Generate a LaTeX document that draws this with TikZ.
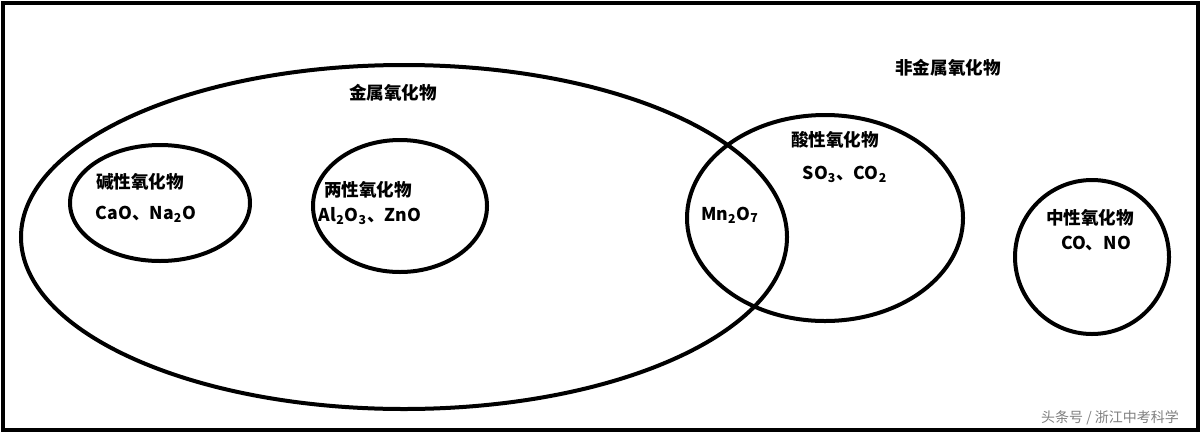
\documentclass[tikz,border=0pt]{standalone}
\usepackage{fontspec}
\setmainfont{Noto Sans CJK SC}
\tikzset{
	set/.style={line width=2pt},
	lbl/.style={font=\fontsize{8.8}{10}\selectfont\bfseries, inner sep=0pt}
}
\begin{document}
\begin{tikzpicture}[x=0.5pt, y=-0.5pt]
	%frame
	\fill[white] (0,0) rectangle (1202,434);
	\draw[line width=1.8pt] (3,3) rectangle (1198,430);
	%sets
	\draw[set] (404,237) ellipse [x radius=383, y radius=172];
	\draw[set] (160,203) ellipse [x radius=90, y radius=58];
	\draw[set] (400,206) ellipse [x radius=87, y radius=66];
	\draw[set] (825,218) ellipse [x radius=138, y radius=103];
	\draw[set] (1092,257) ellipse [x radius=77, y radius=77];
	%labels
	\node[lbl] (metal) at (393,93) {金属氧化物};
	\node[lbl] (nonmetal) at (948,68) {非金属氧化物};
	\node[lbl] (basic) at (140,182) {碱性氧化物};
	\node[lbl] (basicex) at (146,214) {CaO、Na\textsubscript{2}O};
	\node[lbl] (amph) at (368,190) {两性氧化物};
	\node[lbl] (amphex) at (370,216) {Al\textsubscript{2}O\textsubscript{3}、ZnO};
	\node[lbl] (mn) at (730,215) {Mn\textsubscript{2}O\textsubscript{7}};
	\node[lbl] (acid) at (835,140) {酸性氧化物};
	\node[lbl] (acidex) at (845,174) {SO\textsubscript{3}、CO\textsubscript{2}};
	\node[lbl] (neutral) at (1090,218) {中性氧化物};
	\node[lbl] (neutralex) at (1096,243) {CO、NO};
	\node[inner sep=0pt, font=\fontsize{7}{9}\selectfont, text=gray] (mark) at (1110,418) {头条号 / 浙江中考科学};
\end{tikzpicture}
\end{document}
